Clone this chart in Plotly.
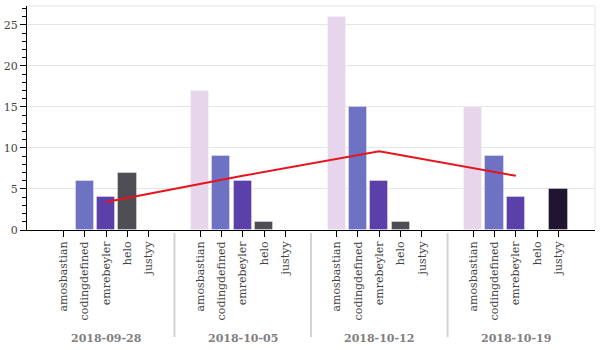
import plotly.graph_objects as go

weeks = ["2018-09-28", "2018-10-05", "2018-10-12", "2018-10-19"]
users = ["amosbastian", "codingdefined", "emrebeyler", "helo", "justyy"]
counts = {
    "amosbastian":   [0, 17, 26, 15],
    "codingdefined": [6, 9, 15, 9],
    "emrebeyler":    [4, 6, 6, 4],
    "helo":          [7, 1, 1, 0],
    "justyy":        [0, 0, 0, 5],
}
avg_line = [3.4, 6.6, 9.6, 6.6]
colors = {
    "amosbastian": "#e6d5eb",
    "codingdefined": "#6d73c2",
    "emrebeyler": "#5a40a8",
    "helo": "#4e4e54",
    "justyy": "#1f1530",
}

GROUP_PAD = 1.4
n = len(users)
step = n + GROUP_PAD

def pos(g, i):
    return g * step + i + 0.5

total = len(weeks) * n + (len(weeks) - 1) * GROUP_PAD
pad = total * 0.05
xr = [-pad, total + pad]

FONT = "DejaVu Serif"
fig = go.Figure()

for i, u in enumerate(users):
    fig.add_trace(go.Bar(
        x=[pos(g, i) for g in range(len(weeks))],
        y=counts[u],
        width=0.85,
        marker=dict(color=colors[u], line=dict(color="rgba(255,255,255,0.35)", width=1)),
        name=u, showlegend=False,
    ))

fig.add_trace(go.Scatter(
    x=[pos(g, 2) for g in range(len(weeks))],
    y=avg_line, mode="lines",
    line=dict(color="#e8141c", width=2),
    showlegend=False,
))

tickvals = [pos(g, i) for g in range(len(weeks)) for i in range(n)]
ticktext = [u for g in range(len(weeks)) for u in users]

plot_h = 224
shapes = []
for g in range(1, len(weeks)):
    xs = g * step - GROUP_PAD / 2
    shapes.append(dict(type="line", xref="x", yref="paper", x0=xs, x1=xs,
                       y0=-3 / plot_h, y1=-107 / plot_h,
                       line=dict(color="#d3d3d3", width=2)))
# plot outline top and right
shapes.append(dict(type="line", xref="paper", yref="paper", x0=0, x1=1, y0=1, y1=1,
                   line=dict(color="#e5e5e5", width=1)))
shapes.append(dict(type="line", xref="paper", yref="paper", x0=1, x1=1, y0=0, y1=1,
                   line=dict(color="#e5e5e5", width=1)))

annotations = []
for g, w in enumerate(weeks):
    annotations.append(dict(x=pos(g, 2), xref="x", y=-108 / plot_h, yref="paper",
                            text=f"<b>{w}</b>", showarrow=False, yanchor="middle",
                            font=dict(family=FONT, size=11, color="#808080")))

fig.update_layout(
    width=600, height=350,
    margin=dict(l=27, r=5, t=6, b=120),
    paper_bgcolor="white", plot_bgcolor="white",
    bargap=0, barmode="overlay",
    shapes=shapes, annotations=annotations,
    font=dict(family=FONT, size=11, color="#444"),
    xaxis=dict(range=xr, tickmode="array", tickvals=tickvals, ticktext=ticktext,
               tickangle=-90, ticks="outside", ticklen=6, tickcolor="black",
               showline=True, linecolor="black", linewidth=1, showgrid=False,
               zeroline=False, tickfont=dict(family=FONT, size=11, color="#444")),
    yaxis=dict(range=[0, 27.3], tickvals=[0, 5, 10, 15, 20, 25], ticks="outside",
               ticklen=6, tickcolor="black", showline=True, linecolor="black",
               linewidth=1, showgrid=True, gridcolor="#e5e5e5", zeroline=False,
               minor=dict(dtick=1, ticks="outside", ticklen=4, tickcolor="black", showgrid=False),
               tickfont=dict(family=FONT, size=11, color="#444")),
)

fig.write_html("out.html")
